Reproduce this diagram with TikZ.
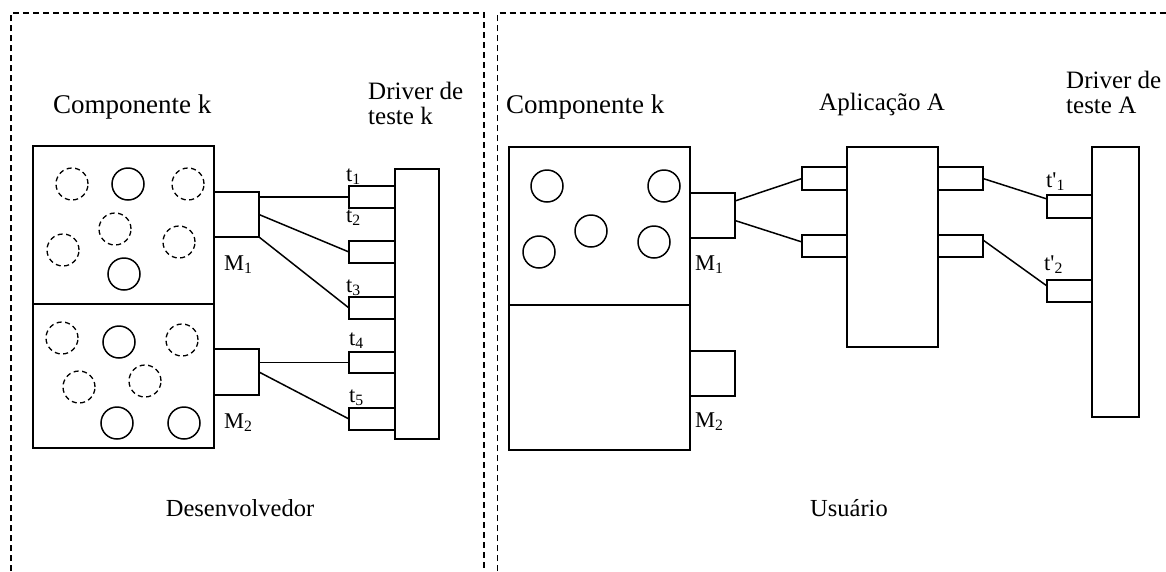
\documentclass[tikz,border=0pt]{standalone}
\usepackage{fontspec}
\setmainfont{Liberation Serif}
\usetikzlibrary{calc}

\begin{document}
\begin{tikzpicture}[x=1pt,y=-1pt,
  ln/.style={line width=1.5pt},
  frame/.style={line width=1.2pt,dash pattern=on 6pt off 4pt},
  box/.style={draw,line width=1.5pt,rectangle,inner sep=0pt,outer sep=0pt,anchor=north west},
  solidc/.style={line width=1.5pt},
  dashc/.style={line width=1.3pt,dash pattern=on 5pt off 3.5pt},
  head/.style={inner sep=0pt,anchor=base west,font=\fontsize{25}{25}\selectfont},
  comp/.style={inner sep=0pt,anchor=base west,font=\fontsize{27}{27}\selectfont},
  foot/.style={inner sep=0pt,anchor=base,font=\fontsize{24.5}{24.5}\selectfont},
  lbl/.style={inner sep=0pt,anchor=base west,font=\fontsize{22.5}{22.5}\selectfont}
]
\useasboundingbox (0,0) rectangle (1166,571);
\fill[white] (0,0) rectangle (1166,571);

% dashed frames of the two areas
\draw[frame] (11,571) -- (11,13) -- (484,13) -- (484,571);
\draw[frame] (497.5,571) -- (497.5,13) -- (1166,13);

% ---------------- Desenvolvedor ----------------
\node[comp] (titL) at (53,113) {Componente k};
\node[head] (drvLt) at (368,99) {\begin{tabular}[t]{@{}l@{}}Driver de\\teste k\end{tabular}};

\node[box,minimum width=181pt,minimum height=158pt] (cLtop) at (33,146) {};
\node[box,minimum width=181pt,minimum height=144pt] (cLbot) at (33,304) {};

% components inside the upper part
\draw[dashc] (72,184) circle[radius=16pt];
\draw[solidc] (128,184) circle[radius=16pt];
\draw[dashc] (188,184) circle[radius=16pt];
\draw[dashc] (115,229) circle[radius=16pt];
\draw[dashc] (63,250) circle[radius=16pt];
\draw[dashc] (179,242) circle[radius=16pt];
\draw[solidc] (124,274) circle[radius=16pt];
% components inside the lower part
\draw[dashc] (62,338) circle[radius=16pt];
\draw[solidc] (119,342) circle[radius=16pt];
\draw[dashc] (182,340) circle[radius=16pt];
\draw[dashc] (79,387) circle[radius=16pt];
\draw[dashc] (145,381) circle[radius=16pt];
\draw[solidc] (117,423) circle[radius=16pt];
\draw[solidc] (184,423) circle[radius=16pt];

\node[box,minimum width=45pt,minimum height=45pt] (M1L) at (214,192) {};
\node[box,minimum width=45pt,minimum height=46pt] (M2L) at (214,349) {};
\node[lbl] (M1Ll) at (224,270) {M\textsubscript{1}};
\node[lbl] (M2Ll) at (224,428) {M\textsubscript{2}};

\node[box,minimum width=44pt,minimum height=270pt] (drvL) at (395,169) {};
\node[box,minimum width=46pt,minimum height=22pt] (pL1) at (349,186) {};
\node[box,minimum width=46pt,minimum height=22pt] (pL2) at (349,241) {};
\node[box,minimum width=46pt,minimum height=22pt] (pL3) at (349,297) {};
\node[box,minimum width=46pt,minimum height=21pt] (pL4) at (349,352) {};
\node[box,minimum width=46pt,minimum height=22pt] (pL5) at (349,408) {};
\node[lbl] (t1) at (346,181) {t\textsubscript{1}};
\node[lbl] (t2) at (346,222) {t\textsubscript{2}};
\node[lbl] (t3) at (346,292) {t\textsubscript{3}};
\node[lbl] (t4) at (349,345) {t\textsubscript{4}};
\node[lbl] (t5) at (349,402) {t\textsubscript{5}};

\draw[ln] (M1L.east |- pL1.west) -- (pL1.west);
\draw[ln] (M1L.east) -- (pL2.west);
\draw[ln] (M1L.south east) -- (pL3.west);
\draw[ln] (M2L.east |- pL4.west) -- (pL4.west);
\draw[ln] (M2L.east) -- (pL5.west);

\node[foot] (dev) at (240,516) {Desenvolvedor};

% ---------------- Usuario ----------------
\node[comp] (titR) at (506,113) {Componente k};
\node[head] (appt) at (819,110) {Aplicação A};
\node[head] (drvRt) at (1066,88) {\begin{tabular}[t]{@{}l@{}}Driver de\\teste A\end{tabular}};

\node[box,minimum width=181pt,minimum height=158pt] (cRtop) at (509,147) {};
\node[box,minimum width=181pt,minimum height=145pt] (cRbot) at (509,305) {};
\draw[solidc] (547,186) circle[radius=16pt];
\draw[solidc] (664,186) circle[radius=16pt];
\draw[solidc] (591,231) circle[radius=16pt];
\draw[solidc] (539,252) circle[radius=16pt];
\draw[solidc] (654,242) circle[radius=16pt];

\node[box,minimum width=45pt,minimum height=45pt] (M1R) at (690,193) {};
\node[box,minimum width=45pt,minimum height=45pt] (M2R) at (690,351) {};
\node[lbl] (M1Rl) at (695,270) {M\textsubscript{1}};
\node[lbl] (M2Rl) at (695,427) {M\textsubscript{2}};

\node[box,minimum width=91pt,minimum height=200pt] (app) at (847,147) {};
\node[box,minimum width=45pt,minimum height=23pt] (al1) at (802,167) {};
\node[box,minimum width=45pt,minimum height=22pt] (al2) at (802,235) {};
\node[box,minimum width=45pt,minimum height=23pt] (ar1) at (938,167) {};
\node[box,minimum width=45pt,minimum height=22pt] (ar2) at (938,235) {};

\node[box,minimum width=47pt,minimum height=270pt] (drvR) at (1092,147) {};
\node[box,minimum width=45pt,minimum height=23pt] (dp1) at (1047,195) {};
\node[box,minimum width=45pt,minimum height=22pt] (dp2) at (1047,280) {};
\node[lbl] (tp1) at (1046,187) {t\textquotesingle\textsubscript{1}};
\node[lbl] (tp2) at (1044,270) {t\textquotesingle\textsubscript{2}};

\draw[ln] ($(M1R.north east)+(0,8)$) -- (al1.west);
\draw[ln] ($(M1R.east)+(0,5)$) -- ($(al2.north west)+(0,7)$);
\draw[ln] (ar1.east) -- ($(dp1.north west)+(0,4)$);
\draw[ln] ($(ar2.north east)+(0,5)$) -- ($(dp2.north west)+(0,6)$);

\node[foot] (usr) at (849,516) {Usuário};
\end{tikzpicture}
\end{document}
